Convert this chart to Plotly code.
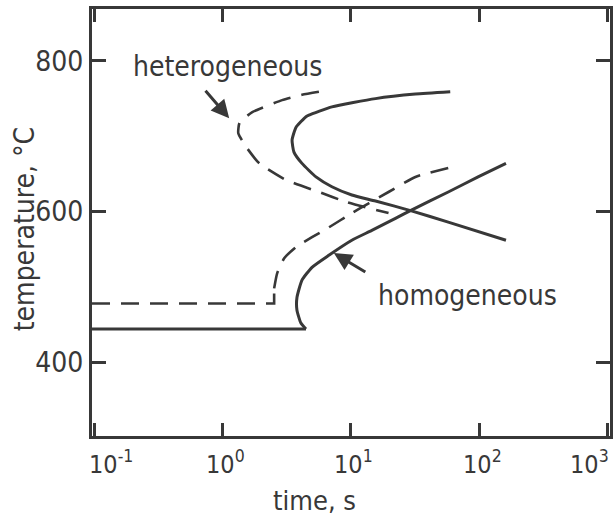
import plotly.graph_objects as go
import math

# Homogeneous nucleation (solid): upper C-curve
homo_upper_t = [59.6, 31.9, 15.6, 7.13, 4.72, 4.48, 3.75, 3.49, 3.61, 4.17, 5.36, 7.13, 10.2, 15.6, 29.7, 57.5, 162]
homo_upper_T = [759, 756, 750, 739, 728, 726, 712, 695, 679, 664, 646, 633, 622, 614, 601, 586, 562]

# Homogeneous nucleation (solid): lower curve with horizontal segment
homo_lower_t = [0.0964, 4.48, 4.09, 3.81, 3.81, 4.17, 4.99, 6.75, 10.2, 14.6, 22.3, 29.7, 57.5, 98.2, 162]
homo_lower_T = [444, 444, 452, 469, 486, 509, 526, 542, 562, 575, 591, 602, 626, 646, 664]

# Heterogeneous nucleation (dashed): upper C-curve
het_upper_t = [5.65, 4.17, 2.92, 1.71, 1.36, 1.33, 1.53, 1.94, 3.13, 5.65, 9.14, 19.7]
het_upper_T = [759, 755, 748, 732, 718, 704, 686, 664, 642, 626, 613, 598]

# Heterogeneous nucleation (dashed): lower curve with horizontal segment
het_lower_t = [0.0964, 2.53, 2.53, 2.67, 3.03, 3.75, 4.99, 6.75, 10.2, 13.8, 19.7, 31.9, 57.5]
het_lower_T = [478, 478, 498, 518, 538, 553, 566, 579, 598, 611, 626, 646, 658]

y_ticks = [400, 600, 800]
x_tick_exps = [-1, 0, 1, 2, 3]
x_tick_labels = ["10<sup>-1</sup>", "10<sup>0</sup>", "10<sup>1</sup>", "10<sup>2</sup>", "10<sup>3</sup>"]

INK = "#383838"
FONT = "DejaVu Sans Condensed, Liberation Sans Narrow, DejaVu Sans, sans-serif"

fig = go.Figure()
line_solid = dict(color=INK, width=3, shape="spline", smoothing=0.5)
line_dash = dict(color=INK, width=2.6, dash="18px,11px", shape="spline", smoothing=0.5)

fig.add_trace(go.Scatter(x=homo_upper_t, y=homo_upper_T, mode="lines", line=line_solid))
fig.add_trace(go.Scatter(x=homo_lower_t[:2], y=homo_lower_T[:2], mode="lines",
                         line=dict(color=INK, width=3)))
fig.add_trace(go.Scatter(x=homo_lower_t[1:], y=homo_lower_T[1:], mode="lines", line=line_solid))
fig.add_trace(go.Scatter(x=het_upper_t, y=het_upper_T, mode="lines", line=line_dash))
fig.add_trace(go.Scatter(x=het_lower_t[:3], y=het_lower_T[:3], mode="lines",
                         line=dict(color=INK, width=2.6, dash="18px,11px")))
fig.add_trace(go.Scatter(x=het_lower_t[2:], y=het_lower_T[2:], mode="lines", line=line_dash))

fig.update_layout(
    width=616, height=521,
    margin=dict(l=92, r=3, t=9, b=85),
    paper_bgcolor="white", plot_bgcolor="white",
    showlegend=False,
    font=dict(family=FONT, color=INK, size=28),
    xaxis=dict(type="log", range=[-1.016, 3.02], tickvals=[10 ** e for e in x_tick_exps],
               showticklabels=False, showgrid=False, zeroline=False,
               showline=True, linecolor=INK, linewidth=3, mirror="ticks",
               ticks="inside", ticklen=13, tickwidth=2.5, tickcolor=INK),
    yaxis=dict(range=[302, 869], tickvals=y_ticks, showgrid=False, zeroline=False,
               showline=True, linecolor=INK, linewidth=3, mirror="ticks",
               ticks="inside", ticklen=14, tickwidth=2.5, tickcolor=INK,
               tickfont=dict(size=28, family=FONT, color=INK)),
)

annotations = [
    dict(text="heterogeneous", x=math.log10(1.1), y=792, xref="x", yref="y",
         showarrow=False, font=dict(size=28, family=FONT, color=INK)),
    dict(text="homogeneous", x=math.log10(80.7), y=488, xref="x", yref="y",
         showarrow=False, font=dict(size=28, family=FONT, color=INK)),
    dict(text="", x=math.log10(1.13), y=724, xref="x", yref="y", ax=-25, ay=-29,
         showarrow=True, arrowhead=2, arrowsize=1.2, arrowwidth=3, arrowcolor=INK),
    dict(text="", x=math.log10(7.38), y=545, xref="x", yref="y", ax=33, ay=20,
         showarrow=True, arrowhead=2, arrowsize=1.2, arrowwidth=3, arrowcolor=INK),
    dict(text="time, s", x=0.43, y=-0.152, xref="paper", yref="paper",
         xanchor="center", yanchor="middle", showarrow=False,
         font=dict(size=27, family=FONT, color=INK)),
    dict(text="temperature, °C", x=-0.1286, y=0.485, xref="paper", yref="paper",
         xanchor="center", yanchor="middle", textangle=-90, showarrow=False,
         font=dict(size=28, family=FONT, color=INK)),
]
shifts = {-1: 17, 3: -18}
for e, lab in zip(x_tick_exps, x_tick_labels):
    annotations.append(dict(text=lab, x=e, y=0, xref="x", yref="paper",
                            xanchor="center", yanchor="top", yshift=-8,
                            xshift=shifts.get(e, 3), showarrow=False,
                            font=dict(size=25, family=FONT, color=INK)))
fig.update_layout(annotations=annotations)

fig.write_html("out.html")
